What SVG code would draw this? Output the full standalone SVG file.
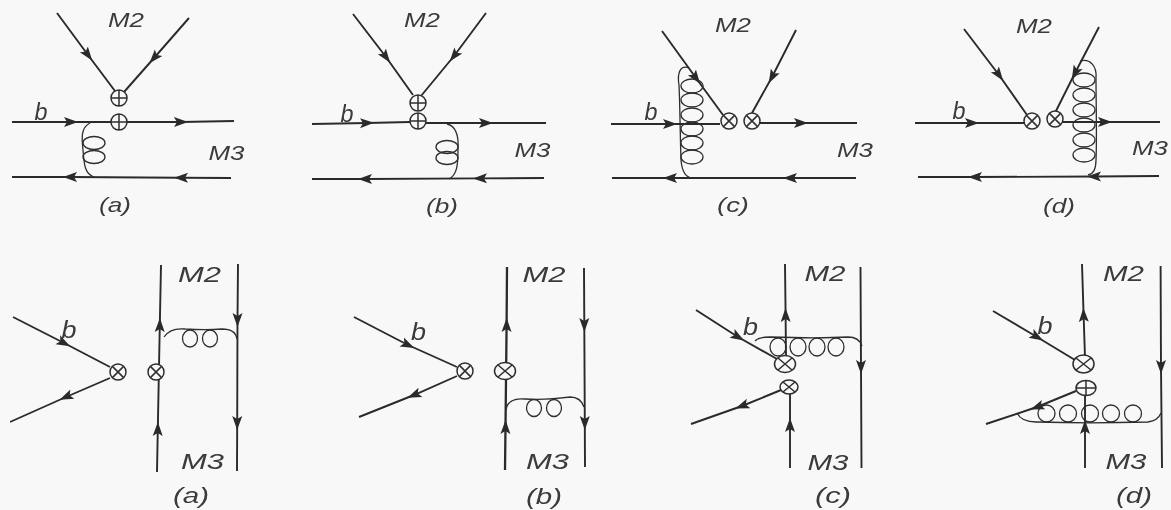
<svg xmlns="http://www.w3.org/2000/svg" width="1171" height="510" viewBox="0 0 1171 510">
<style>
.q{fill:none;stroke:#2a2a2a;stroke-width:1.9;marker-mid:url(#ah)}
.g{fill:none;stroke:#2e2e2e;stroke-width:1.3}
.v{fill:#f9f8f8;stroke:#2e2e2e;stroke-width:1.5}
text{font-family:"Liberation Sans",Arial,sans-serif;font-style:italic;fill:#3a3a3a;text-anchor:middle}
.t{font-size:21px}
.l{font-size:22.500px}
.b{font-size:23px}
</style>
<defs>
<marker id="ah" markerUnits="userSpaceOnUse" markerWidth="16" markerHeight="12" refX="7" refY="6" orient="auto"><path d="M0 1 L14 6 L0 11 L3 6Z" fill="#2a2a2a"/></marker>
<filter id="soft" x="0" y="0" width="100%" height="100%"><feGaussianBlur stdDeviation="0.35"/></filter>
<g id="vx"><circle r="8" class="v"/><path d="M-5.600-5.600L5.600 5.600M-5.600 5.600L5.600-5.600" class="v"/></g>
<g id="vp"><circle r="8" class="v"/><path d="M-8 0H8M0-8V8" class="v"/></g>
</defs>
<rect id="background" width="1171" height="510" fill="#f9f8f8"/>
<g filter="url(#soft)">
<g id="connectors">
<!-- top a -->
<path class="q" d="M57 13L88 55L115 91"/><path class="q" d="M189 18L154 58L124 92"/>
<path class="q" d="M12 122L71 122L111 122"/><path class="q" d="M127 122L181 122L234 121"/>
<path class="q" d="M231 178L181 177.700L70 177L12 177"/>
<path class="g" d="M90 123C80 128 82 140 83 150C84 165 85 174 94 177"/>
<ellipse class="g" cx="94" cy="143" rx="11" ry="6.500"/><ellipse class="g" cx="94" cy="157" rx="11" ry="6.500"/>
<!-- top b -->
<path class="q" d="M353 14L386 57L413 95"/><path class="q" d="M486 13L454 56L421 96"/>
<path class="q" d="M312 124L367 123L410 122"/><path class="q" d="M426 123L486 123L546 123"/>
<path class="q" d="M544 178L480 178.400L365 179L312 179"/>
<path class="g" d="M447 124C456 126 459 135 458 150C458 165 457 175 449 179"/>
<ellipse class="g" cx="447" cy="147" rx="11" ry="6.500"/><ellipse class="g" cx="447" cy="158" rx="11" ry="6.500"/>
<!-- top c -->
<path class="q" d="M662 31L696 78L723 115"/><path class="q" d="M796 30L772 77L752 113"/>
<path class="q" d="M611 124L670 124L720 124"/><path class="q" d="M760 123L801 123L857 123"/>
<path class="q" d="M856 178L790 178L670 178L612 178"/>
<path class="g" d="M689 68C680 64 677 74 679 85C680 105 680 130 681 160C682 172 686 178 693 178"/>
<ellipse class="g" cx="692" cy="86" rx="11" ry="7"/><ellipse class="g" cx="692" cy="100" rx="11" ry="7"/><ellipse class="g" cx="692" cy="115" rx="11" ry="7"/><ellipse class="g" cx="692" cy="129" rx="11" ry="7"/><ellipse class="g" cx="692" cy="143" rx="11" ry="7"/><ellipse class="g" cx="692" cy="157" rx="11" ry="7"/>
<!-- top d -->
<path class="q" d="M964 29L999 75L1027 115"/><path class="q" d="M1099 27L1075 73L1055 113"/>
<path class="q" d="M915 123L972 123L1024 123"/><path class="q" d="M1062 122L1105 122L1160 122"/>
<path class="q" d="M1159 176L1094 176.500L975 177L918 177"/>
<path class="g" d="M1080 61C1090 58 1097 66 1096 78C1096 100 1097 140 1096 160C1096 168 1094 174 1088 175"/>
<ellipse class="g" cx="1084" cy="80" rx="11" ry="7"/><ellipse class="g" cx="1084" cy="95" rx="11" ry="7"/><ellipse class="g" cx="1084" cy="110" rx="11" ry="7"/><ellipse class="g" cx="1084" cy="125" rx="11" ry="7"/><ellipse class="g" cx="1084" cy="140" rx="11" ry="7"/><ellipse class="g" cx="1084" cy="155" rx="11" ry="7"/>
<!-- bottom a -->
<path class="q" d="M13 317L64 343L110 367"/><path class="q" d="M110 378L66 397L10 422"/>
<path class="q" d="M157 472L157.800 429L159.800 325L161 265"/>
<path class="q" d="M238 264L237.500 320L237.200 423L237 471"/>
<path class="g" d="M164 337C168 331 175 328 185 329C200 330 210 330 222 329C230 329 236 332 237 339"/>
<ellipse class="g" cx="190" cy="338.500" rx="7.500" ry="8.500"/><ellipse class="g" cx="210" cy="338.500" rx="7.500" ry="8.500"/>
<!-- bottom b -->
<path class="q" style="stroke-width:2.300" d="M505 470L505.500 427L506.600 325L507 267"/>
<path class="q" d="M584 268L584.300 325L584.800 423L585 467"/>
<path class="q" d="M354 317L408 345L457 367"/><path class="q" d="M457 376L414 395L359 417"/>
<path class="g" d="M506 410C507 402 513 398 525 399C540 400 555 399 570 397C578 397 582 401 584 407"/>
<ellipse class="g" cx="534" cy="408" rx="7.500" ry="8.500"/><ellipse class="g" cx="554" cy="408" rx="7.500" ry="8.500"/>
<!-- bottom c -->
<path class="q" d="M696 310L738 337L777 359"/><path class="q" d="M781 390L742 406L691 424"/>
<path class="q" d="M786 358L785.600 315L785 264"/><path class="q" d="M790 468L790 425L790 393"/>
<path class="q" d="M860.500 267L861 367L861.500 468"/>
<path class="g" d="M755 341C758 338 763 337 770 337C800 338 830 338 848 337C855 337 860 340 862 346"/>
<ellipse class="g" cx="778" cy="347" rx="8" ry="9"/><ellipse class="g" cx="798" cy="347" rx="8" ry="9"/><ellipse class="g" cx="817" cy="347" rx="8" ry="9"/><ellipse class="g" cx="836" cy="347" rx="8" ry="9"/>
<!-- bottom d -->
<path class="q" d="M993 311L1037 337L1075 360"/><path class="q" d="M1076 391L1037 407L986 424"/>
<path class="q" d="M1085 357L1083.600 315L1082 264"/><path class="q" d="M1085 468L1085 427L1085 394"/>
<path class="q" d="M1160.600 266L1161 367L1162 468"/>
<path class="g" d="M1017 413C1020 419 1026 422 1036 422C1070 423 1110 423 1148 422C1155 421 1159 418 1161 413"/>
<ellipse class="g" cx="1046.500" cy="413.500" rx="8.500" ry="8.500"/><ellipse class="g" cx="1068" cy="413.500" rx="8.500" ry="8.500"/><ellipse class="g" cx="1090" cy="413.500" rx="8.500" ry="8.500"/><ellipse class="g" cx="1111" cy="413.500" rx="8.500" ry="8.500"/><ellipse class="g" cx="1133" cy="413.500" rx="8.500" ry="8.500"/>
</g>
<g id="vertex-ta1"><use href="#vp" x="119" y="98"/></g>
<g id="vertex-ta2"><use href="#vp" x="119" y="122"/></g>
<g id="vertex-tb1"><use href="#vp" x="418" y="103"/></g>
<g id="vertex-tb2"><use href="#vp" x="418" y="121"/></g>
<g id="vertex-tc1"><use href="#vx" x="729" y="121"/></g>
<g id="vertex-tc2"><use href="#vx" x="752" y="121"/></g>
<g id="vertex-td1"><use href="#vx" x="1032" y="121"/></g>
<g id="vertex-td2"><use href="#vx" x="1055" y="119"/></g>
<g id="vertex-ba1"><use href="#vx" x="118" y="372"/></g>
<g id="vertex-ba2"><use href="#vx" x="156" y="372"/></g>
<g id="vertex-bb1"><use href="#vx" x="465" y="371"/></g>
<g id="vertex-bb2"><ellipse class="v" cx="505" cy="371" rx="10.500" ry="8.500"/><path class="v" d="M498 365L512 377M498 377L512 365"/></g>
<g id="vertex-bc1"><ellipse class="v" cx="785" cy="364" rx="10.500" ry="8.500"/><path class="v" d="M778 358L792 370M778 370L792 358"/></g>
<g id="vertex-bc2"><ellipse class="v" cx="789" cy="387" rx="9" ry="7"/><path class="v" d="M783 382L795 392M783 392L795 382"/></g>
<g id="vertex-bd1"><ellipse class="v" cx="1083.500" cy="364" rx="10.500" ry="9"/><path class="v" d="M1076 358L1091 370M1076 370L1091 358"/></g>
<g id="vertex-bd2"><ellipse class="v" cx="1086" cy="388" rx="10" ry="7.500"/><path class="v" d="M1076 388H1096M1086 380.500V395.500"/></g>
<g id="labels">
<text class="t" x="126" y="27" textLength="36" lengthAdjust="spacingAndGlyphs">M2</text>
<text class="t" x="422" y="27" textLength="36" lengthAdjust="spacingAndGlyphs">M2</text>
<text class="t" x="733" y="32" textLength="36" lengthAdjust="spacingAndGlyphs">M2</text>
<text class="t" x="1034" y="33" textLength="36" lengthAdjust="spacingAndGlyphs">M2</text>
<text class="t" x="226.500" y="160" textLength="36" lengthAdjust="spacingAndGlyphs">M3</text>
<text class="t" x="532.500" y="157" textLength="36" lengthAdjust="spacingAndGlyphs">M3</text>
<text class="t" x="855" y="157" textLength="36" lengthAdjust="spacingAndGlyphs">M3</text>
<text class="t" x="1150" y="155" textLength="36" lengthAdjust="spacingAndGlyphs">M3</text>
<text class="b" x="41" y="120" textLength="13" lengthAdjust="spacingAndGlyphs">b</text>
<text class="b" x="347" y="122" textLength="13" lengthAdjust="spacingAndGlyphs">b</text>
<text class="b" x="651" y="120" textLength="13" lengthAdjust="spacingAndGlyphs">b</text>
<text class="b" x="959" y="119" textLength="13" lengthAdjust="spacingAndGlyphs">b</text>
<text class="t" x="115" y="212" textLength="32" lengthAdjust="spacingAndGlyphs">(a)</text>
<text class="t" x="442" y="213" textLength="32" lengthAdjust="spacingAndGlyphs">(b)</text>
<text class="t" x="733" y="212" textLength="32" lengthAdjust="spacingAndGlyphs">(c)</text>
<text class="t" x="1059" y="213" textLength="32" lengthAdjust="spacingAndGlyphs">(d)</text>
<text class="l" x="199.500" y="282" textLength="43" lengthAdjust="spacingAndGlyphs">M2</text>
<text class="l" x="544" y="282" textLength="43" lengthAdjust="spacingAndGlyphs">M2</text>
<text class="l" x="825" y="281" textLength="41" lengthAdjust="spacingAndGlyphs">M2</text>
<text class="l" x="1123.500" y="281" textLength="41" lengthAdjust="spacingAndGlyphs">M2</text>
<text class="l" x="202.500" y="469" textLength="43" lengthAdjust="spacingAndGlyphs">M3</text>
<text class="l" x="547.500" y="469" textLength="43" lengthAdjust="spacingAndGlyphs">M3</text>
<text class="l" x="828" y="470" textLength="41" lengthAdjust="spacingAndGlyphs">M3</text>
<text class="l" x="1126" y="469" textLength="41" lengthAdjust="spacingAndGlyphs">M3</text>
<text class="b" x="69" y="338" textLength="15" lengthAdjust="spacingAndGlyphs">b</text>
<text class="b" x="418.500" y="340" textLength="15" lengthAdjust="spacingAndGlyphs">b</text>
<text class="b" x="750.500" y="335" textLength="15" lengthAdjust="spacingAndGlyphs">b</text>
<text class="b" x="1045" y="334" textLength="15" lengthAdjust="spacingAndGlyphs">b</text>
<text class="l" x="191" y="503" textLength="36" lengthAdjust="spacingAndGlyphs">(a)</text>
<text class="l" x="544" y="504" textLength="36" lengthAdjust="spacingAndGlyphs">(b)</text>
<text class="l" x="833" y="503" textLength="36" lengthAdjust="spacingAndGlyphs">(c)</text>
<text class="l" x="1134" y="503" textLength="36" lengthAdjust="spacingAndGlyphs">(d)</text>
</g>
</g>
</svg>
